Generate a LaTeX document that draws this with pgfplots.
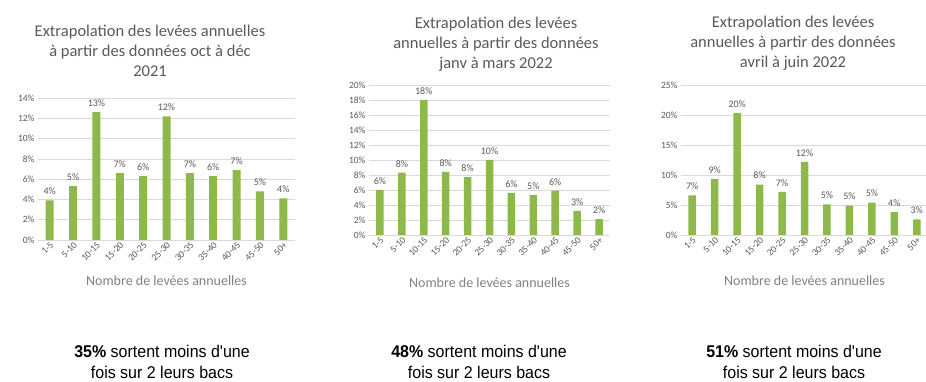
\documentclass[border=0pt]{standalone}
\usepackage{pgfplots}
\pgfplotsset{compat=1.18}
\usepackage{fontspec}
\setmainfont{Carlito}
\newfontfamily\arialfont[FakeStretch=0.94]{Liberation Sans}
\definecolor{bargreen}{HTML}{8DB84A}
\definecolor{txtgrey}{HTML}{595959}
\definecolor{lblgrey}{HTML}{808080}
\definecolor{gridgrey}{HTML}{D9D9D9}

\pgfplotsset{
  mybar/.style={
    scale only axis, ybar, bar width=8pt,
    xmin=-0.5, xmax=10.5, ymin=0,
    xtick={0,...,10},
    xticklabels={1-5,5-10,10-15,15-20,20-25,25-30,30-35,35-40,40-45,45-50,50+},
    x tick label style={rotate=45, anchor=north east, font=\fontsize{9.5}{10}\selectfont, text=txtgrey, inner sep=1pt},
    y tick label style={font=\fontsize{9.5}{10}\selectfont, text=txtgrey},
    /pgf/number format/assume math mode=true,
    yticklabel={\pgfmathprintnumber{\tick}\%},
    ymajorgrids, grid style={gridgrey, line width=0.7pt},
    axis x line*=bottom, axis y line*=left,
    y axis line style={draw=none},
    x axis line style={gridgrey, line width=0.7pt},
    major tick length=0pt,
    nodes near coords={\pgfmathprintnumber[fixed,precision=0]{\pgfplotspointmeta}\%},
    nodes near coords style={font=\fontsize{10}{11}\selectfont, text=txtgrey, yshift=2pt},
    xlabel={Nombre de levées annuelles},
    xlabel style={at={(axis description cs:0.5,0)}, anchor=center, font=\fontsize{14}{16}\selectfont, text=lblgrey},
  },
}

\begin{document}
\begin{tikzpicture}
\useasboundingbox (0,0) rectangle (926pt,382pt);

% Chart 1
\begin{axis}[mybar, at={(38pt,142pt)}, anchor=south west, width=257pt, height=142pt,
  ymax=14, ytick={0,2,...,14}, xlabel style={yshift=-41pt}]
\addplot[fill=bargreen, draw=none] coordinates {
 (0,3.9) (1,5.3) (2,12.6) (3,6.6) (4,6.3) (5,12.2) (6,6.6) (7,6.3) (8,6.9) (9,4.8) (10,4.1)};
\end{axis}

% Chart 2
\begin{axis}[mybar, at={(369pt,147pt)}, anchor=south west, width=241pt, height=150pt,
  ymax=20, ytick={0,2,...,20}, bar width=7.5pt, xlabel style={yshift=-48pt}]
\addplot[fill=bargreen, draw=none] coordinates {
 (0,6.0) (1,8.3) (2,18.0) (3,8.4) (4,7.7) (5,10.0) (6,5.6) (7,5.3) (8,5.9) (9,3.2) (10,2.1)};
\end{axis}

% Chart 3
\begin{axis}[mybar, at={(681pt,147pt)}, anchor=south west, width=247pt, height=150pt,
  ymax=25, ytick={0,5,...,25}, bar width=7.5pt, xlabel style={yshift=-46pt}]
\addplot[fill=bargreen, draw=none] coordinates {
 (0,6.6) (1,9.3) (2,20.3) (3,8.4) (4,7.2) (5,12.2) (6,5.1) (7,4.9) (8,5.4) (9,3.8) (10,2.6)};
\end{axis}

% Titles
\node[align=center, font=\fontsize{16.5}{20}\selectfont, text=txtgrey] at (150pt,331pt)
  {Extrapolation des levées annuelles\\à partir des données oct à déc\\2021};
\node[align=center, font=\fontsize{16.5}{20}\selectfont, text=txtgrey] at (496pt,338pt)
  {Extrapolation des levées\\annuelles à partir des données\\janv à mars 2022};
\node[align=center, font=\fontsize{16.5}{20}\selectfont, text=txtgrey] at (793pt,339pt)
  {Extrapolation des levées\\annuelles à partir des données\\avril à juin 2022};

% Bottom notes
\node[align=center, font=\arialfont\fontsize{17}{21}\selectfont, text=black] at (162pt,20pt)
  {\textbf{35\%} sortent moins d'une\\fois sur 2 leurs bacs};
\node[align=center, font=\arialfont\fontsize{17}{21}\selectfont, text=black] at (479pt,20pt)
  {\textbf{48\%} sortent moins d'une\\fois sur 2 leurs bacs};
\node[align=center, font=\arialfont\fontsize{17}{21}\selectfont, text=black] at (794pt,20pt)
  {\textbf{51\%} sortent moins d'une\\fois sur 2 leurs bacs};
\end{tikzpicture}
\end{document}
